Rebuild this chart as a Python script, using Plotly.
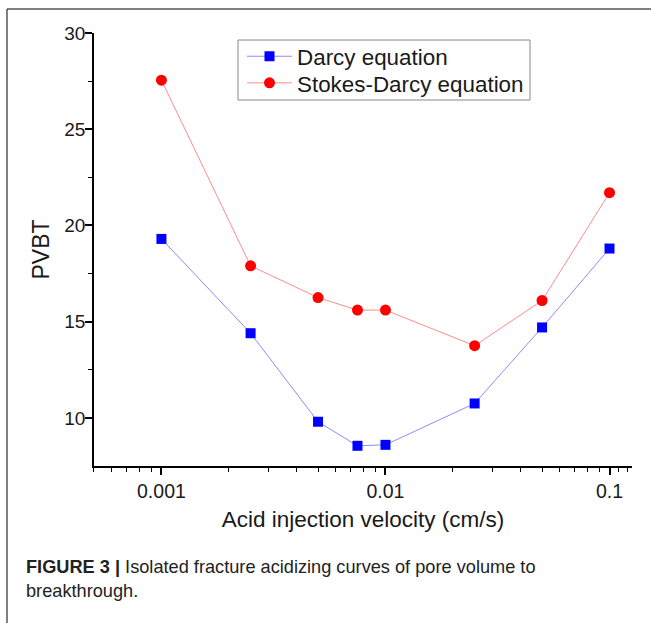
import plotly.graph_objects as go

# Acid injection velocity (cm/s) and pore volume to breakthrough (PVBT)
velocity = [0.001, 0.0025, 0.005, 0.0075, 0.01, 0.025, 0.05, 0.1]
darcy_pvbt = [19.3, 14.4, 9.8, 8.55, 8.6, 10.75, 14.7, 18.8]
stokes_darcy_pvbt = [27.55, 17.9, 16.25, 15.6, 15.6, 13.75, 16.1, 21.7]

x_tick_vals = [0.001, 0.01, 0.1]
x_tick_text = ["0.001", "0.01", "0.1"]
x_minor_vals = [m * d for d in (0.0001, 0.001, 0.01) for m in range(2, 10)] + [0.11, 0.12]
y_tick_vals = [10, 15, 20, 25, 30]
y_minor_vals = [12.5, 17.5, 22.5, 27.5]

FONT = "Liberation Sans, Arial, Helvetica, sans-serif"
TEXT = "#1a1a1a"

fig = go.Figure()
fig.add_trace(go.Scatter(
    x=velocity, y=darcy_pvbt, name="Darcy equation",
    mode="lines+markers", legend="legend",
    line=dict(color="rgb(140,140,255)", width=1),
    marker=dict(symbol="square", size=10, color="#0000ff"),
))
fig.add_trace(go.Scatter(
    x=velocity, y=stokes_darcy_pvbt, name="Stokes-Darcy equation",
    mode="lines+markers", legend="legend2",
    line=dict(color="rgb(255,140,140)", width=1),
    marker=dict(symbol="circle", size=11, color="#ff0000"),
))

legend_style = dict(
    xanchor="left", yanchor="middle",
    bgcolor="rgba(0,0,0,0)", borderwidth=0,
    font=dict(size=22.4, family=FONT, color=TEXT),
    itemwidth=45,
)

fig.update_layout(
    width=651, height=623,
    margin=dict(l=94, r=19, t=33, b=157, pad=0),
    paper_bgcolor="white", plot_bgcolor="white",
    font=dict(family=FONT, color="black"),
    showlegend=True,
    legend=dict(x=0.2751, y=0.9453, **legend_style),
    legend2=dict(x=0.2751, y=0.8838, **legend_style),
    xaxis=dict(
        type="log",
        range=[-3.301, -0.8996],
        tickvals=x_tick_vals, ticktext=x_tick_text,
        ticks="outside", ticklen=7, tickwidth=1.5, tickcolor="black",
        minor=dict(tickvals=x_minor_vals, ticks="outside", ticklen=4,
                   tickwidth=1.2, tickcolor="black", showgrid=False),
        showline=True, linecolor="black", linewidth=1.5,
        showgrid=False, zeroline=False,
        tickfont=dict(size=19.5, family=FONT, color=TEXT),
        title=dict(text="Acid injection velocity (cm/s)",
                   font=dict(size=22.5, family=FONT, color=TEXT), standoff=10),
    ),
    yaxis=dict(
        range=[7.5, 30],
        tickvals=y_tick_vals,
        ticks="outside", ticklen=7, tickwidth=1.5, tickcolor="black",
        minor=dict(tickvals=y_minor_vals, ticks="outside", ticklen=4,
                   tickwidth=1.2, tickcolor="black", showgrid=False),
        showline=True, linecolor="black", linewidth=1.5,
        showgrid=False, zeroline=False,
        tickfont=dict(size=19, family=FONT, color=TEXT),
        ticklabelstandoff=-4,
        title=dict(text="PVBT", font=dict(size=23, family=FONT, color=TEXT),
                   standoff=8),
    ),
)

# Legend box
fig.add_shape(type="rect", xref="paper", yref="paper",
              x0=0.2677, x1=0.8104, y0=0.8453, y1=0.9838,
              fillcolor="white", line=dict(color="#888888", width=1), layer="below")

# Frame around the figure panel (top and left edges)
fig.add_shape(type="line", xref="paper", yref="paper",
              x0=-0.1617, x1=1.06, y0=1.0554, y1=1.0554,
              line=dict(color="#555555", width=1.5))
fig.add_shape(type="line", xref="paper", yref="paper",
              x0=-0.1617, x1=-0.1617, y0=1.0554, y1=-0.40,
              line=dict(color="#555555", width=1.5))

# Figure caption
fig.add_annotation(
    xref="paper", yref="paper", x=-0.130, y=-0.261,
    xanchor="left", yanchor="middle", align="left", showarrow=False,
    text="<b>FIGURE 3 |</b> Isolated fracture acidizing curves of pore volume to<br>breakthrough.",
    font=dict(size=18.2, family=FONT, color="#222222"),
)

fig.write_html("out.html")
